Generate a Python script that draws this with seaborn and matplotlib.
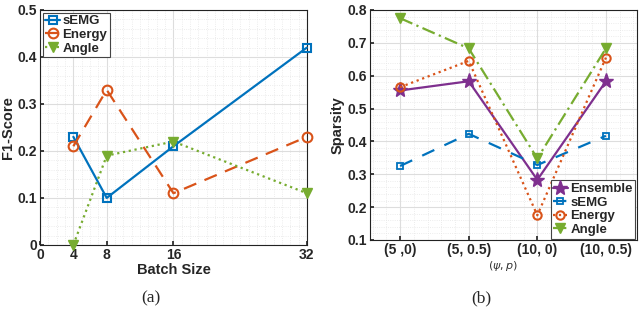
import matplotlib
matplotlib.use("Agg")
import matplotlib.pyplot as plt
import numpy as np
import pandas as pd
import seaborn as sns

# (a) F1-score vs batch size
batch = [4, 8, 16, 32]
f1_semg = [0.23, 0.10, 0.21, 0.42]
f1_energy = [0.21, 0.33, 0.11, 0.23]
f1_angle = [0.00, 0.19, 0.22, 0.11]

# (b) sparsity vs (psi, p)
params = ["(5 ,0)", "(5, 0.5)", "(10, 0)", "(10, 0.5)"]
sp_ensemble = [0.555, 0.583, 0.283, 0.583]
sp_semg = [0.325, 0.423, 0.328, 0.417]
sp_energy = [0.565, 0.645, 0.175, 0.655]
sp_angle = [0.775, 0.683, 0.348, 0.683]

blue, orange, green, purple = "#0072BD", "#D95319", "#77AC30", "#7E2F8E"

sns.set_theme(style="ticks")
plt.rcParams["font.family"] = ["Liberation Sans", "DejaVu Sans"]

fig = plt.figure(figsize=(6.4, 3.12), dpi=100)
ax1 = fig.add_axes([0.0625, 0.215, 0.417, 0.753])
ax2 = fig.add_axes([0.578, 0.231, 0.417, 0.737])

df_a = pd.DataFrame({"batch": batch * 3,
                     "f1": f1_semg + f1_energy + f1_angle,
                     "series": ["sEMG"] * 4 + ["Energy"] * 4 + ["Angle"] * 4})

styles_a = {
    "sEMG": dict(color=blue, linestyle="-", marker="s", mfc="none", mec=blue, ms=6, mew=1.5),
    "Energy": dict(color=orange, linestyle=(0, (6, 4)), marker="o", mfc="none", mec=orange, ms=7, mew=1.5),
    "Angle": dict(color=green, linestyle=":", marker="v", mfc=green, mec=green, ms=7, mew=1),
}
for name, st in styles_a.items():
    sub = df_a[df_a.series == name]
    sns.lineplot(data=sub, x="batch", y="f1", ax=ax1, label=name, lw=1.6,
                 clip_on=False, zorder=3, **st)

ax1.set_xlim(0, 32)
ax1.set_ylim(0, 0.5)
ax1.set_xticks([0, 4, 8, 16, 32])
ax1.set_yticks([0, 0.1, 0.2, 0.3, 0.4, 0.5])
ax1.set_yticklabels(["0", "0.1", "0.2", "0.3", "0.4", "0.5"])
ax1.set_xlabel("Batch Size", fontsize=10.5, fontweight="bold", labelpad=1)
ax1.set_ylabel("F1-Score", fontsize=10.5, fontweight="bold", labelpad=2)
leg1 = ax1.legend(loc="upper left", prop={"size": 9.5, "weight": "bold"},
                  frameon=True, fancybox=False,
                  handlelength=1.1, handletextpad=0.2, borderpad=0.2,
                  labelspacing=0.1, borderaxespad=0.2)
leg1.get_frame().set_edgecolor("#444444")
leg1.get_frame().set_linewidth(0.8)
leg1.get_frame().set_alpha(1)

df_b = pd.DataFrame({"pos": list(range(1, 5)) * 4,
                     "sp": sp_ensemble + sp_semg + sp_energy + sp_angle,
                     "series": ["Ensemble"] * 4 + ["sEMG"] * 4 + ["Energy"] * 4 + ["Angle"] * 4})
styles_b = {
    "Ensemble": dict(color=purple, linestyle="-", marker="*", mfc=purple, mec=purple, ms=11, mew=1),
    "sEMG": dict(color=blue, linestyle=(0, (6, 5)), marker="s", mfc="none", mec=blue, ms=5, mew=1.3),
    "Energy": dict(color=orange, linestyle=":", marker="o", mfc="none", mec=orange, ms=6, mew=1.5),
    "Angle": dict(color=green, linestyle=(0, (6, 2, 1, 2)), marker="v", mfc=green, mec=green, ms=7, mew=1),
}
for name, st in styles_b.items():
    sub = df_b[df_b.series == name]
    sns.lineplot(data=sub, x="pos", y="sp", ax=ax2, label=name, lw=1.6,
                 clip_on=False, zorder=3, **st)

ax2.set_xlim(0.56, 4.45)
ax2.set_ylim(0.1, 0.8)
ax2.set_xticks(range(1, 5))
ax2.set_xticklabels(params)
ax2.set_yticks(np.round(np.arange(0.1, 0.81, 0.1), 1))
ax2.set_xlabel(r"$(\psi, p)$", fontsize=8, labelpad=2, color="#333333")
ax2.set_ylabel("Sparsity", fontsize=10.5, fontweight="bold", labelpad=2)
leg2 = ax2.legend(loc="lower right", prop={"size": 9.5, "weight": "bold"},
                  frameon=True, fancybox=False,
                  handlelength=1.1, handletextpad=0.2, borderpad=0.2,
                  labelspacing=0.1, borderaxespad=0.1)
leg2.get_frame().set_edgecolor("#444444")
leg2.get_frame().set_linewidth(0.8)
leg2.get_frame().set_alpha(1)

for ax in (ax1, ax2):
    ax.grid(True, which="major", color="#dddddd", lw=0.8)
    ax.minorticks_on()
    ax.grid(True, which="minor", color="#e6e6e6", lw=0.6, linestyle=":")
    ax.tick_params(which="minor", length=0)
    ax.tick_params(which="major", labelsize=10, length=3, direction="in", pad=2)
    for lab in ax.get_xticklabels() + ax.get_yticklabels():
        lab.set_fontweight("bold")
    for sp in ax.spines.values():
        sp.set_color("#222222")
        sp.set_linewidth(0.8)
    ax.set_axisbelow(True)
ax1.get_legend().set_zorder(5)
ax2.get_legend().set_zorder(5)

fig.text(0.236, 0.03, "(a)", fontsize=12.5, family="Liberation Serif", ha="center")
fig.text(0.752, 0.03, "(b)", fontsize=12.5, family="Liberation Serif", ha="center")

fig.savefig("out.png", dpi=100)
